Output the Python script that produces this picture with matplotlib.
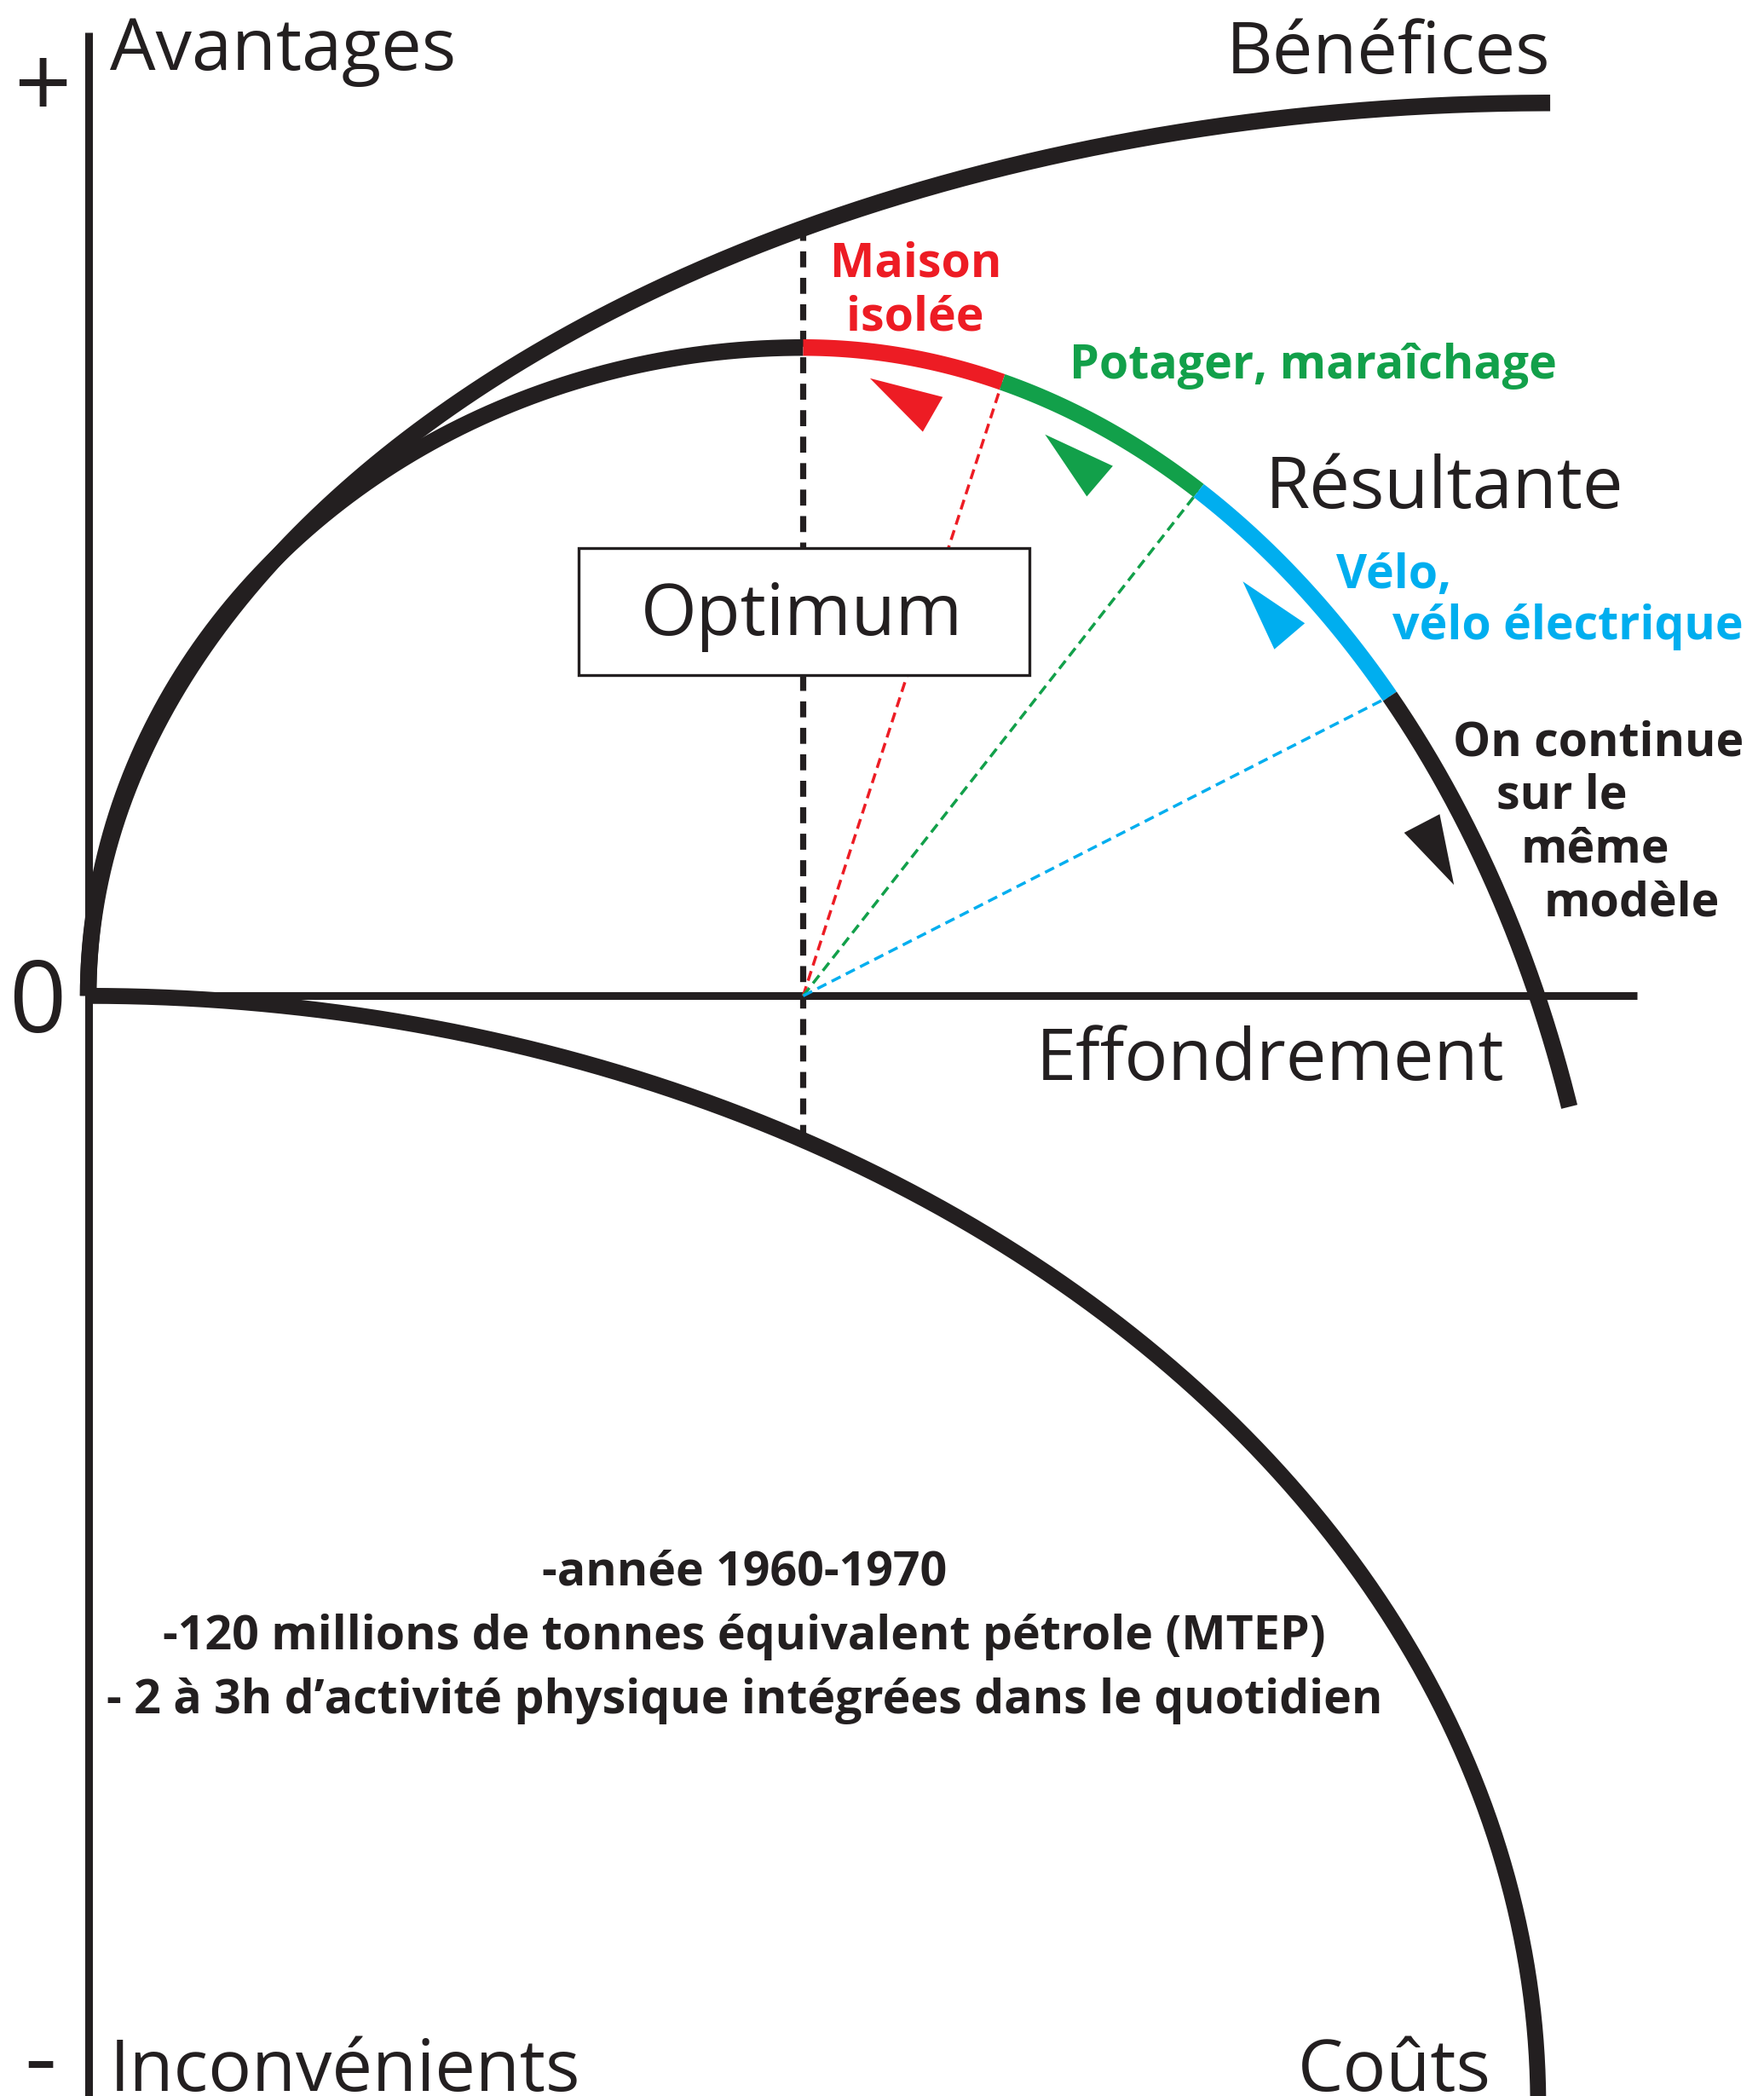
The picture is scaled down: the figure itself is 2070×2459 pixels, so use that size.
import numpy as np
import matplotlib.pyplot as plt

# diagram units: origin where the two axes cross, y up
benefices_ellipse = [1094, 0, 1094, 668]        # cx, cy, a, b
resultante_left = [535, 0, 535, 485]
resultante_right = [535, -355, 606, 840]
couts_ellipse = [0, -830, 1085, 830]

optimum_x = 535
seg_limits_x = [535, 684, 831, 974]             # optimum, red/green, green/blue, blue/black
seg_colors = ['#ED1C24', '#12A04A', '#00AEEF']
resultante_end_y = -83

arrow_tips = [(585, 462), (716, 420), (864, 310), (1022, 83)]
arrow_bases = [(632, 435), (757, 385), (899, 269), (998, 129)]
arrow_colors = ['#ED1C24', '#12A04A', '#00AEEF', '#231F20']

BLACK = '#231F20'
FONT = 'Open Sans'


def ellipse_pts(e, t1, t2, n=400):
    cx, cy, a, b = e
    t = np.radians(np.linspace(t1, t2, n))
    return cx + a * np.cos(t), cy + b * np.sin(t)


def angle_at_x(e, x):
    cx, cy, a, b = e
    return np.degrees(np.arccos((x - cx) / a))


def y_at_x(e, x, upper=True):
    cx, cy, a, b = e
    s = np.sqrt(max(0.0, 1 - ((x - cx) / a) ** 2))
    return cy + b * s if upper else cy - b * s


fig = plt.figure(figsize=(20.7, 24.59), dpi=100)
ax = fig.add_axes([0, 0, 1, 1])
ax.set_xlim(-66, 1254)
ax.set_ylim(-823, 745)
ax.axis('off')

# axes
ax.plot([0, 0], [-830, 721], color=BLACK, lw=6.5, solid_capstyle='butt', zorder=2)
ax.plot([0, 1159], [0, 0], color=BLACK, lw=6.5, solid_capstyle='butt', zorder=2)

# Benefices
x, y = ellipse_pts(benefices_ellipse, 180, 90)
ax.plot(x, y, color=BLACK, lw=14, solid_capstyle='butt', zorder=3)

# Couts
x, y = ellipse_pts(couts_ellipse, 90, -12)
ax.plot(x, y, color=BLACK, lw=13.5, solid_capstyle='butt', zorder=3)

# Resultante, left half up to the optimum
x, y = ellipse_pts(resultante_left, 180, 90)
ax.plot(x, y, color=BLACK, lw=14, solid_capstyle='butt', zorder=3)

# Resultante, right half in coloured segments
angles = [angle_at_x(resultante_right, v) for v in seg_limits_x]
for i, c in enumerate(seg_colors):
    x, y = ellipse_pts(resultante_right, angles[i], angles[i + 1], 120)
    ax.plot(x, y, color=c, lw=14, solid_capstyle='butt', zorder=4)
cx, cy, a, b = resultante_right
t_end = np.degrees(np.arcsin((resultante_end_y - cy) / b))
x, y = ellipse_pts(resultante_right, angles[-1], t_end, 200)
ax.plot(x, y, color=BLACK, lw=14, solid_capstyle='butt', zorder=4)

# vertical dashed optimum line
y_top = y_at_x(benefices_ellipse, optimum_x)
y_bot = y_at_x(couts_ellipse, optimum_x)
ax.plot([optimum_x, optimum_x], [y_bot, y_top], color=BLACK, lw=5.2,
        dashes=(2.6, 1.7), zorder=2)

# coloured dashed rays
for i, c in enumerate(seg_colors):
    xe = seg_limits_x[i + 1]
    ye = y_at_x(resultante_right, xe)
    ax.plot([optimum_x, xe], [0, ye], color=c, lw=2.5, dashes=(3.4, 2.0), zorder=2)

# arrow heads
for tip, base, c in zip(arrow_tips, arrow_bases, arrow_colors):
    d = np.array(tip, float) - np.array(base, float)
    d /= np.hypot(*d)
    p = np.array([-d[1], d[0]]) * 15
    b = np.array(base, float)
    tri = np.array([tip, b + p, b - p])
    ax.fill(tri[:, 0], tri[:, 1], color=c, lw=0, zorder=5)

# Optimum box
ax.add_patch(plt.Rectangle((367, 240), 337, 95, facecolor='white',
                           edgecolor=BLACK, lw=2.4, zorder=6))
ax.text(534, 270, 'Optimum', fontsize=61, family=FONT, color=BLACK,
        ha='center', va='baseline', zorder=7)

# big labels
big = dict(fontsize=61, family=FONT, color=BLACK, va='baseline')
ax.text(16, 693, 'Avantages', ha='left', **big)
ax.text(1094, 690, 'Bénéfices', ha='right', **big)
ax.text(881, 365, 'Résultante', ha='left', **big)
ax.text(709, -63, 'Effondrement', ha='left', **big)
ax.text(16, -819, 'Inconvénients', ha='left', **big)
ax.text(905, -819, 'Coûts', ha='left', **big)

sign = dict(fontsize=85, family=FONT, color=BLACK, va='baseline', ha='center')
ax.text(-34, 657, '+', **sign)
ax.text(-38, -27, '0', **sign)
ax.text(-36, -819, '-', **sign)

# coloured labels
lab = dict(fontsize=40, family=FONT, fontweight='bold', va='baseline')
ax.text(619, 538, 'Maison', ha='center', color='#ED1C24', **lab)
ax.text(619, 498, 'isolée', ha='center', color='#ED1C24', **lab)
ax.text(734, 462, 'Potager, maraîchage', ha='left', color='#12A04A', **lab)
ax.text(934, 305, 'Vélo,', ha='left', color='#00AEEF', **lab)
ax.text(976, 267, 'vélo électrique', ha='left', color='#00AEEF', **lab)
ax.text(1021, 180, 'On continue', ha='left', color=BLACK, **lab)
ax.text(1054, 140, 'sur le', ha='left', color=BLACK, **lab)
ax.text(1072, 100, 'même', ha='left', color=BLACK, **lab)
ax.text(1089, 60, 'modèle', ha='left', color=BLACK, **lab)

# bottom notes
notes = ['-année 1960-1970',
         '-120 millions de tonnes équivalent pétrole (MTEP)',
         '- 2 à 3h d’activité physique intégrées dans le quotidien']
for i, line in enumerate(notes):
    ax.text(491, -441 - 48 * i, line, ha='center', color=BLACK, **lab)

fig.savefig('out.png', dpi=100)
